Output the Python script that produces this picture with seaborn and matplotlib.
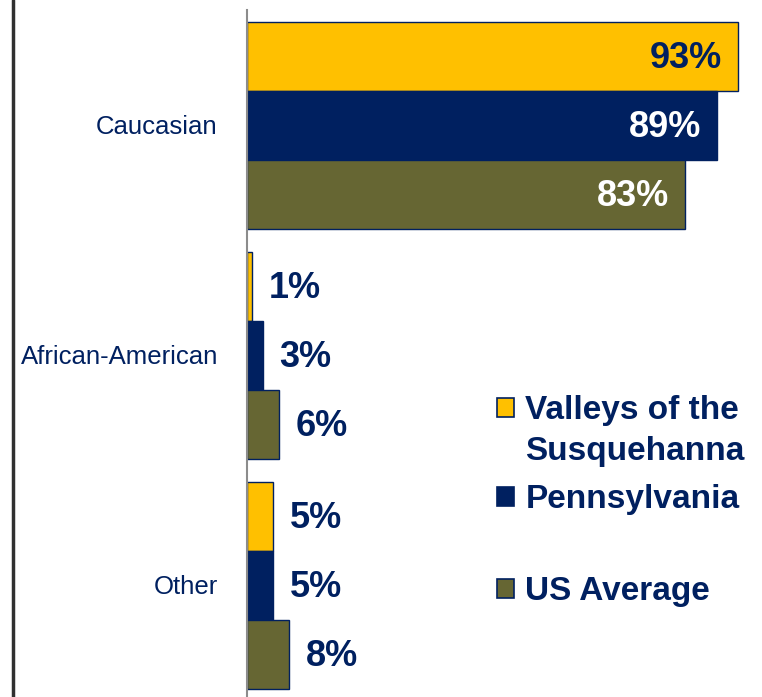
import matplotlib
matplotlib.use("Agg")
import matplotlib.pyplot as plt
import seaborn as sns
import pandas as pd
from matplotlib import font_manager
from matplotlib.lines import Line2D
from matplotlib.patches import Patch

# data
categories = ["Caucasian", "African-American", "Other"]
series = ["Valleys of the Susquehanna", "Pennsylvania", "US Average"]
valleys = [93, 1, 5]
pennsylvania = [89, 3, 5]
us_average = [83, 6, 8]

colors = ["#FFC000", "#002060", "#666633"]
navy = "#002060"

rows = []
for name, vals in zip(series, [valleys, pennsylvania, us_average]):
    for cat, v in zip(categories, vals):
        rows.append({"category": cat, "series": name, "pct": v})
df = pd.DataFrame(rows)

sns.set_style("white")
plt.rcParams["font.family"] = ["Liberation Sans", "DejaVu Sans"]
available = {f.name for f in font_manager.fontManager.ttflist}
if "Liberation Sans Narrow" in available:
    cat_font = {"family": ["Liberation Sans Narrow", "DejaVu Sans"], "size": 22.5}
else:
    cat_font = {"family": ["Liberation Sans", "DejaVu Sans"], "size": 18.5}

W, H = 762, 697
fig = plt.figure(figsize=(W / 100, H / 100), dpi=100)
ax = fig.add_axes([247 / W, -3 / H, 1 - 247 / W, (H - 10 + 3) / H])

sns.barplot(data=df, x="pct", y="category", hue="series", order=categories,
            hue_order=series, palette=colors, width=0.9, saturation=1,
            edgecolor=navy, linewidth=1, ax=ax)
if ax.get_legend() is not None:
    ax.get_legend().remove()

ax.set_xlim(0, 97.5)
ax.set_ylim(2.5, -0.5)
ax.xaxis.set_visible(False)
ax.set_ylabel("")
for s in ["top", "right", "bottom"]:
    ax.spines[s].set_visible(False)
ax.spines["left"].set_color("#8c8c8c")
ax.spines["left"].set_linewidth(1.5)

# category labels at centres, tick marks at group boundaries
ax.set_yticks(range(len(categories)))
ax.set_yticklabels(categories, **cat_font)
ax.tick_params(axis="y", which="major", length=0, pad=21, labelcolor=navy)
ax.set_yticks([-0.5, 0.5, 1.5], minor=True)
ax.tick_params(axis="y", which="minor", length=7.2, width=1.5,
               color="#8c8c8c", direction="out")

# value labels
for i, container in enumerate(ax.containers):
    for bar in container:
        w = bar.get_width()
        yc = bar.get_y() + bar.get_height() / 2
        if w > 50:
            col = navy if i == 0 else "white"
            ax.annotate(f"{w:.0f}%", (w, yc), xytext=(-11.5, -2),
                        textcoords="offset points", ha="right", va="center",
                        fontsize=26, fontweight="bold", color=col)
        else:
            ax.annotate(f"{w:.0f}%", (w, yc), xytext=(12, -2),
                        textcoords="offset points", ha="left", va="center",
                        fontsize=26, fontweight="bold", color=navy)

# legend: one small legend per entry so the spacing follows the original
handles = [Patch(facecolor=c, edgecolor=navy, linewidth=1.2) for c in colors]
blank = Patch(facecolor="none", edgecolor="none")
leg_kw = dict(loc="upper left", bbox_transform=fig.transFigure, frameon=False,
              prop={"weight": "bold", "size": 24}, labelcolor=navy,
              handlelength=0.5, handleheight=0.5, handletextpad=0.35,
              borderpad=0, borderaxespad=0, labelspacing=0.3)
leg_a = ax.legend([handles[0], blank], ["Valleys of the", "Susquehanna"],
                  bbox_to_anchor=(497 / W, 1 - 395 / H), **leg_kw)
ax.add_artist(leg_a)
leg_b = ax.legend([handles[1]], [series[1]],
                  bbox_to_anchor=(497 / W, 1 - 484 / H), **leg_kw)
ax.add_artist(leg_b)
leg_c = ax.legend([handles[2]], [series[2]],
                  bbox_to_anchor=(497 / W, 1 - 576 / H), **leg_kw)

# slide border on the left
fig.add_artist(Line2D([13 / W, 13 / W], [0, 1], transform=fig.transFigure,
                      color="#303030", linewidth=2.5))

fig.savefig("out.png", dpi=100)
